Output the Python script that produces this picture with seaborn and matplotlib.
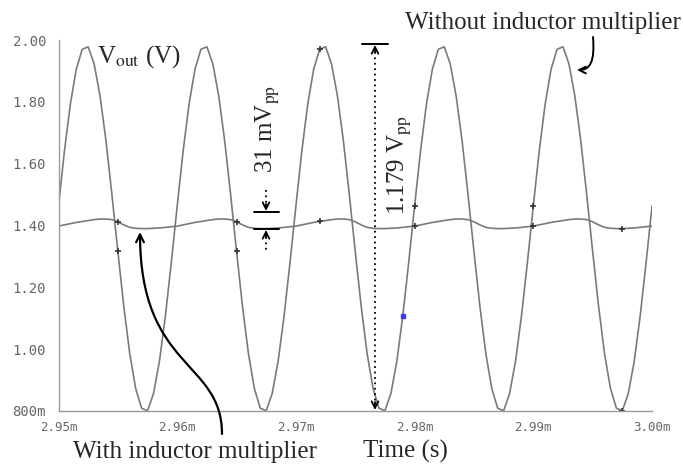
import numpy as np
import matplotlib
matplotlib.use('Agg')
import matplotlib.pyplot as plt
import seaborn as sns
from matplotlib.patches import FancyArrowPatch
from matplotlib.path import Path

# Output voltage samples, one every 0.5 us from 2.950 ms to 3.000 ms
time_ms = np.linspace(2.950, 3.000, 101)

v_without = [
    1.463, 1.641, 1.793, 1.906, 1.970, 1.978, 1.923, 1.819, 1.674, 1.500,
    1.316, 1.139, 0.986, 0.873, 0.809, 0.801, 0.856, 0.960, 1.106, 1.279,
    1.463, 1.641, 1.793, 1.906, 1.970, 1.978, 1.923, 1.819, 1.674, 1.500,
    1.316, 1.139, 0.986, 0.873, 0.809, 0.801, 0.856, 0.960, 1.106, 1.279,
    1.463, 1.641, 1.793, 1.906, 1.970, 1.978, 1.923, 1.819, 1.674, 1.500,
    1.316, 1.139, 0.986, 0.873, 0.809, 0.801, 0.856, 0.960, 1.106, 1.279,
    1.463, 1.641, 1.793, 1.906, 1.970, 1.978, 1.923, 1.819, 1.674, 1.500,
    1.316, 1.139, 0.986, 0.873, 0.809, 0.801, 0.856, 0.960, 1.106, 1.279,
    1.463, 1.641, 1.793, 1.906, 1.970, 1.978, 1.923, 1.819, 1.674, 1.500,
    1.316, 1.139, 0.986, 0.873, 0.809, 0.801, 0.856, 0.960, 1.106, 1.279,
    1.463,
]

v_with = [
    1.398, 1.402, 1.406, 1.410, 1.413, 1.416, 1.419, 1.421, 1.421, 1.419,
    1.412, 1.402, 1.394, 1.391, 1.390, 1.390, 1.391, 1.392, 1.394, 1.396,
    1.398, 1.402, 1.406, 1.410, 1.413, 1.416, 1.419, 1.421, 1.421, 1.419,
    1.412, 1.402, 1.394, 1.391, 1.390, 1.390, 1.391, 1.392, 1.394, 1.396,
    1.398, 1.402, 1.406, 1.410, 1.413, 1.416, 1.419, 1.421, 1.421, 1.419,
    1.412, 1.402, 1.394, 1.391, 1.390, 1.390, 1.391, 1.392, 1.394, 1.396,
    1.398, 1.402, 1.406, 1.410, 1.413, 1.416, 1.419, 1.421, 1.421, 1.419,
    1.412, 1.402, 1.394, 1.391, 1.390, 1.390, 1.391, 1.392, 1.394, 1.396,
    1.398, 1.402, 1.406, 1.410, 1.413, 1.416, 1.419, 1.421, 1.421, 1.419,
    1.412, 1.402, 1.394, 1.391, 1.390, 1.390, 1.391, 1.392, 1.394, 1.396,
    1.398,
]

# simulator marker positions (sample index) and the blue cursor point
marker_idx = [10, 30, 44, 60, 80, 95]
cursor_idx = 58

x_ticks = [2.95, 2.96, 2.97, 2.98, 2.99, 3.00]
x_labels = ['2.95m', '2.96m', '2.97m', '2.98m', '2.99m', '3.00m']
y_ticks = [0.8, 1.0, 1.2, 1.4, 1.6, 1.8, 2.0]
y_labels = ['800m', '1.00', '1.20', '1.40', '1.60', '1.80', '2.00']

sns.set_style('white')
plt.rcParams['font.family'] = ['Liberation Serif', 'DejaVu Serif']
plt.rcParams['mathtext.fontset'] = 'stix'

W, H = 683, 467
fig = plt.figure(figsize=(W / 100, H / 100), dpi=100)
ax = fig.add_axes([58.5 / W, 1 - 411 / H, (652 - 58.5) / W, (411 - 40) / H])


def fp(x, y):
    # pixel position in the picture -> figure fraction
    return (x / W, 1 - y / H)


trace = '#7a7a7a'
sns.lineplot(x=time_ms, y=v_without, ax=ax, color=trace, linewidth=1.2,
             marker='+', markevery=marker_idx, markersize=5,
             markeredgecolor='#333333', markeredgewidth=1.2)
sns.lineplot(x=time_ms, y=v_with, ax=ax, color=trace, linewidth=1.2,
             marker='+', markevery=marker_idx, markersize=5,
             markeredgecolor='#333333', markeredgewidth=1.2)
ax.plot(time_ms[cursor_idx], v_without[cursor_idx], marker='s', markersize=3,
        color='#3a3aff', clip_on=False)

ax.set_xlim(2.95, 3.00)
ax.set_ylim(0.8, 2.0)
ax.set_xticks(x_ticks)
ax.set_xticklabels(x_labels, family='DejaVu Sans Mono', fontsize=9, color='#666666')
ax.set_yticks(y_ticks)
ax.set_yticklabels(y_labels, family='DejaVu Sans Mono', fontsize=10, color='#666666')
ax.set_xticks(np.arange(2.95, 3.0005, 0.001), minor=True)
ax.set_yticks(np.arange(0.8, 2.0001, 0.025), minor=True)
ax.tick_params(which='major', direction='in', length=5, width=1, color='#888888')
ax.tick_params(which='minor', direction='in', length=2.5, width=0.8, color='#aaaaaa')
ax.tick_params(axis='x', pad=7)
ax.tick_params(axis='y', pad=9)
ax.set_xlabel('')
ax.set_ylabel('')
for side in ['top', 'right']:
    ax.spines[side].set_visible(False)
for side in ['left', 'bottom']:
    ax.spines[side].set_color('#9a9a9a')
    ax.spines[side].set_linewidth(1)

fs = 18
# labels
fig.text(*fp(97, 63), r'V$_{\mathrm{out}}$ (V)', fontsize=fs, va='baseline', ha='left')
fig.text(*fp(681, 29), 'Without inductor multiplier', fontsize=fs, va='baseline', ha='right')
fig.text(*fp(195, 458), 'With inductor multiplier', fontsize=fs, va='baseline', ha='center')
fig.text(*fp(405, 458), 'Time (s)', fontsize=fs, va='baseline', ha='center')
fig.text(*fp(268, 129), r'31 mV$_{\mathrm{pp}}$', fontsize=fs, rotation=90,
         ha='center', va='center')
fig.text(*fp(400, 165), r'1.179 V$_{\mathrm{pp}}$', fontsize=fs, rotation=90,
         ha='center', va='center')


def fig_line(p0, p1, **kw):
    (x0, y0), (x1, y1) = fp(*p0), fp(*p1)
    fig.add_artist(plt.Line2D([x0, x1], [y0, y1], transform=fig.transFigure, **kw))


def fig_arrow(tail, tip, ms=12, lw=1.3):
    fig.add_artist(FancyArrowPatch(fp(*tail), fp(*tip), transform=fig.transFigure,
                                   arrowstyle='->', mutation_scale=ms, lw=lw,
                                   color='black', shrinkA=0, shrinkB=0))


# 1.179 Vpp dimension
fig_line((375, 52), (375, 402), color='black', lw=1.3, linestyle=(0, (1, 2)))
fig_line((362, 44), (388, 44), color='black', lw=1.4)
fig_arrow((375, 52), (375, 45))
fig_arrow((375, 402), (375, 410))

# 31 mVpp dimension
fig_line((266, 190), (266, 204), color='black', lw=1.3, linestyle=(0, (1, 2)))
fig_line((254, 212), (279, 212), color='black', lw=1.4)
fig_line((254, 229), (279, 229), color='black', lw=1.4)
fig_arrow((266, 204), (266, 211))
fig_arrow((266, 237), (266, 230))
fig_line((266, 237), (266, 251), color='black', lw=1.3, linestyle=(0, (1, 2)))


def fig_curve(pts, ms=14, lw=1.6):
    verts = [fp(*p) for p in pts]
    path = Path(verts, [Path.MOVETO, Path.CURVE4, Path.CURVE4, Path.CURVE4])
    fig.add_artist(FancyArrowPatch(path=path, transform=fig.transFigure,
                                   arrowstyle='->', mutation_scale=ms, lw=lw,
                                   color='black'))


fig_curve([(222, 434), (222, 360), (140, 370), (140, 232)])
fig_curve([(593, 37), (595, 62), (590, 70), (577, 70)], ms=12, lw=1.4)

fig.savefig('out.png', dpi=100)
